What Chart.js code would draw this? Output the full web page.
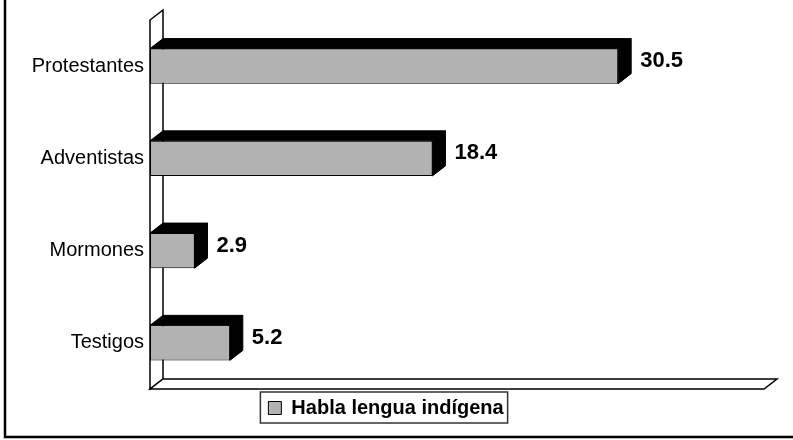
<!DOCTYPE html>
<html>
<head>
<meta charset="utf-8">
<script src="https://cdn.jsdelivr.net/npm/chart.js@4.4.1/dist/chart.umd.min.js"></script>
<style>
  html, body { margin: 0; padding: 0; background: #fff; }
  #wrap { width: 793px; height: 440px; position: relative; }
</style>
</head>
<body>
<div id="wrap"><canvas id="grafica"></canvas></div>
<script>
// datos
const categorias = ['Protestantes', 'Adventistas', 'Mormones', 'Testigos'];
const hablaLengua = [30.5, 18.4, 2.9, 5.2];
const nombreSerie = 'Habla lengua indígena';
const ejeMax = 40;

const FUENTE = "'Liberation Sans', Arial, Helvetica, sans-serif";
const DX = 13, DY = 10; // profundidad del efecto 3D

// paredes (izquierda y piso) con perspectiva
const paredes = {
    id: 'paredes',
    beforeDatasetsDraw(chart) {
        const { ctx, chartArea: a } = chart;
        ctx.save();
        ctx.strokeStyle = '#000';
        ctx.lineWidth = 1.5;
        ctx.fillStyle = '#fff';
        // pared izquierda
        ctx.beginPath();
        ctx.moveTo(a.left, a.bottom);
        ctx.lineTo(a.left, a.top);
        ctx.lineTo(a.left + DX, a.top - DY);
        ctx.lineTo(a.left + DX, a.bottom - DY);
        ctx.closePath();
        ctx.fill();
        ctx.stroke();
        // piso
        ctx.beginPath();
        ctx.moveTo(a.left, a.bottom);
        ctx.lineTo(a.right, a.bottom);
        ctx.lineTo(a.right + DX, a.bottom - DY);
        ctx.lineTo(a.left + DX, a.bottom - DY);
        ctx.closePath();
        ctx.fill();
        ctx.stroke();
        ctx.restore();
    },
    afterDatasetsDraw(chart) {
        const { ctx } = chart;
        const meta = chart.getDatasetMeta(0);
        ctx.save();
        meta.data.forEach((bar, i) => {
            const x0 = bar.base, x1 = bar.x;
            const y0 = bar.y - bar.height / 2, y1 = bar.y + bar.height / 2;
            ctx.fillStyle = '#000';
            ctx.strokeStyle = '#000';
            ctx.lineWidth = 1;
            // cara superior
            ctx.beginPath();
            ctx.moveTo(x0, y0);
            ctx.lineTo(x0 + DX, y0 - DY);
            ctx.lineTo(x1 + DX, y0 - DY);
            ctx.lineTo(x1, y0);
            ctx.closePath();
            ctx.fill();
            ctx.stroke();
            // cara lateral
            ctx.beginPath();
            ctx.moveTo(x1, y0);
            ctx.lineTo(x1 + DX, y0 - DY);
            ctx.lineTo(x1 + DX, y1 - DY);
            ctx.lineTo(x1, y1);
            ctx.closePath();
            ctx.fill();
            ctx.stroke();
            // etiqueta del valor
            ctx.font = 'bold 22px ' + FUENTE;
            ctx.textAlign = 'left';
            ctx.textBaseline = 'middle';
            ctx.fillText(hablaLengua[i].toFixed(1), x1 + DX + 9, bar.y - DY / 2);
        });
        ctx.restore();
    },
    afterDraw(chart) {
        const { ctx } = chart;
        ctx.save();
        // marco de la leyenda
        const hb = chart.legend.legendHitBoxes[0];
        if (hb) {
            const cy = hb.top + hb.height / 2;
            ctx.strokeStyle = '#333';
            ctx.lineWidth = 1.5;
            ctx.strokeRect(hb.left - 8, cy - 16, hb.width + 12, 31);
        }
        // borde exterior (izquierda y abajo)
        ctx.strokeStyle = '#000';
        ctx.lineWidth = 2.5;
        ctx.beginPath();
        ctx.moveTo(5, 0);
        ctx.lineTo(5, 437);
        ctx.lineTo(793, 437);
        ctx.stroke();
        ctx.restore();
    }
};

new Chart(document.getElementById('grafica'), {
    type: 'bar',
    data: {
        labels: categorias,
        datasets: [{
            label: nombreSerie,
            data: hablaLengua,
            backgroundColor: '#b2b2b2',
            borderColor: '#000',
            borderWidth: 1,
            borderSkipped: false,
            categoryPercentage: 1,
            barPercentage: 0.38
        }]
    },
    options: {
        indexAxis: 'y',
        responsive: true,
        maintainAspectRatio: false,
        animation: false,
        layout: { padding: { left: 8, right: 29, top: 20, bottom: 12 } },
        scales: {
            x: {
                display: false,
                min: 0,
                max: ejeMax
            },
            y: {
                grid: { display: false, drawTicks: false },
                border: { display: false },
                ticks: {
                    color: '#000',
                    padding: 6,
                    font: { family: FUENTE, size: 20 }
                },
                afterFit(scale) { scale.width = 142; }
            }
        },
        plugins: {
            legend: {
                position: 'bottom',
                labels: {
                    color: '#000',
                    boxWidth: 13,
                    boxHeight: 13,
                    padding: 9,
                    font: { family: FUENTE, size: 20, weight: 'bold' }
                }
            },
            tooltip: { enabled: false }
        }
    },
    plugins: [paredes]
});
</script>
</body>
</html>
